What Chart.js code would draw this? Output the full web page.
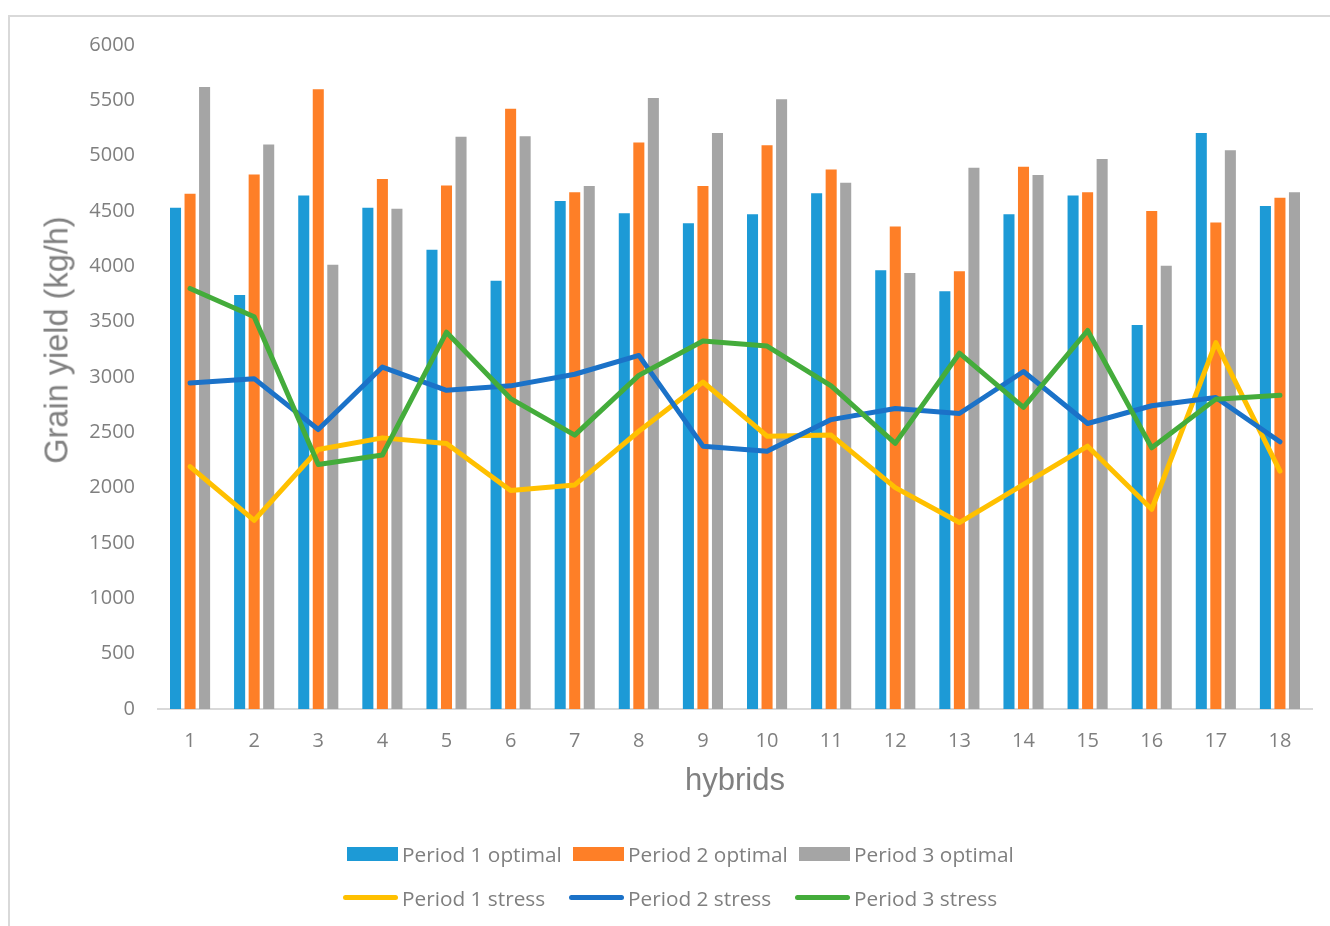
<!DOCTYPE html>
<html>
<head>
<meta charset="utf-8">
<script src="https://cdn.jsdelivr.net/npm/chart.js@4.4.1/dist/chart.umd.min.js"></script>
<style>
  html, body { margin: 0; padding: 0; background: #fff; }
  #wrap { position: relative; width: 1330px; height: 926px; overflow: hidden; }
  #frame { position: absolute; left: 8px; top: 15px; width: 1400px; height: 1000px;
           border-left: 2px solid #d9d9d9; border-top: 2px solid #d9d9d9; box-sizing: border-box; }
  #chart { position: absolute; left: 0; top: 0; }
  #ytitle { position: absolute; left: 57px; top: 340px; transform: translate(-50%, -50%) rotate(-90deg);
            font-family: "Liberation Sans", Arial, sans-serif; font-size: 32.5px; color: #808080; white-space: nowrap; }
  .legend-row { position: absolute; left: 343px; height: 30px; display: flex; }
  .item { width: 226px; display: flex; align-items: center; height: 30px; }
  .sw { width: 55px; height: 30px; position: relative; flex: none; }
  .sw.box i { position: absolute; right: 0; top: 8px; width: 51px; height: 14px; }
  .sw.line i { position: absolute; left: 0; right: 0; top: 12px; height: 5px; border-radius: 3px; }
  .lbl { margin-left: 4px; font-family: "Open Sans", sans-serif; font-size: 20.8px; color: #7f7f7f; white-space: nowrap; }
</style>
</head>
<body>
<div id="wrap">
  <div id="frame"></div>
  <canvas id="chart" width="1330" height="926"></canvas>
  <div id="ytitle">Grain yield (kg/h)</div>
  <div class="legend-row" id="legendBars" style="top:839px"></div>
  <div class="legend-row" id="legendLines" style="top:883px"></div>
</div>
<script>
// Hybrids on the category axis
const hybrids = ['1','2','3','4','5','6','7','8','9','10','11','12','13','14','15','16','17','18'];

// Grain yield under optimal conditions (kg/h)
const period1Optimal = [4530, 3740, 4640, 4530, 4150, 3870, 4590, 4480, 4390, 4470, 4660, 3965, 3775, 4470, 4640, 3470, 5205, 4545];
const period2Optimal = [4655, 4830, 5600, 4790, 4730, 5425, 4670, 5120, 4725, 5095, 4875, 4360, 3955, 4900, 4670, 4500, 4395, 4620];
const period3Optimal = [5620, 5100, 4015, 4520, 5170, 5175, 4725, 5520, 5205, 5510, 4755, 3940, 4890, 4825, 4970, 4005, 5050, 4670];

// Grain yield under stress (kg/h)
const period1Stress = [2190, 1705, 2345, 2450, 2400, 1975, 2025, 2510, 2955, 2465, 2475, 2000, 1685, 2030, 2375, 1805, 3310, 2150];
const period2Stress = [2945, 2985, 2525, 3090, 2880, 2920, 3025, 3195, 2375, 2330, 2615, 2715, 2670, 3050, 2580, 2740, 2815, 2415];
const period3Stress = [3800, 3545, 2210, 2295, 3405, 2805, 2475, 3015, 3325, 3280, 2920, 2400, 3215, 2725, 3420, 2360, 2800, 2835];

// Value axis ticks
const yMin = 0, yMax = 6000, yStep = 500;

const barSeries = [
  { label: 'Period 1 optimal', data: period1Optimal, color: '#1d9ad6' },
  { label: 'Period 2 optimal', data: period2Optimal, color: '#fe7f27' },
  { label: 'Period 3 optimal', data: period3Optimal, color: '#a5a5a5' }
];
const lineSeries = [
  { label: 'Period 1 stress', data: period1Stress, color: '#ffc000', order: 3 },
  { label: 'Period 2 stress', data: period2Stress, color: '#1b72c8', order: 2 },
  { label: 'Period 3 stress', data: period3Stress, color: '#44ac3b', order: 1 }
];

const datasets = [];
barSeries.forEach(s => datasets.push({
  type: 'bar', label: s.label, data: s.data, backgroundColor: s.color,
  borderWidth: 0, categoryPercentage: 0.68, barPercentage: 0.76, order: 10
}));
lineSeries.forEach(s => datasets.push({
  type: 'line', label: s.label, data: s.data, borderColor: s.color, backgroundColor: s.color,
  borderWidth: 5, pointRadius: 0, tension: 0, borderJoinStyle: 'round', borderCapStyle: 'round',
  fill: false, order: s.order
}));

const tickColor = '#7f7f7f';

new Chart(document.getElementById('chart'), {
  data: { labels: hybrids, datasets },
  options: {
    responsive: false,
    animation: false,
    devicePixelRatio: 1,
    layout: { padding: { left: 0, top: 45, right: 18, bottom: 126 } },
    plugins: { legend: { display: false }, tooltip: { enabled: false } },
    scales: {
      x: {
        grid: { display: false, drawTicks: false },
        border: { display: true, color: '#d9d9d9', width: 2 },
        ticks: { color: tickColor, font: { family: 'Open Sans', size: 20 }, padding: 20, maxRotation: 0 },
        title: { display: true, text: 'hybrids', color: '#808080',
                 font: { family: 'Liberation Sans', size: 31 }, padding: { top: 0, bottom: 0 } },
        afterFit: s => { s.height = 91; }
      },
      y: {
        min: yMin, max: yMax,
        grid: { display: false, drawTicks: false },
        border: { display: false },
        ticks: { stepSize: yStep, color: tickColor, font: { family: 'Open Sans', size: 20 }, padding: 23,
                 callback: v => String(v) },
        afterFit: s => { s.width = 158; }
      }
    }
  }
});

// Two-row legend built from the series definitions
function addItem(row, s, kind) {
  const item = document.createElement('div');
  item.className = 'item';
  const sw = document.createElement('div');
  sw.className = 'sw ' + kind;
  const mark = document.createElement('i');
  mark.style.background = s.color;
  sw.appendChild(mark);
  const lbl = document.createElement('span');
  lbl.className = 'lbl';
  lbl.textContent = s.label;
  item.appendChild(sw);
  item.appendChild(lbl);
  row.appendChild(item);
}
barSeries.forEach(s => addItem(document.getElementById('legendBars'), s, 'box'));
lineSeries.forEach(s => addItem(document.getElementById('legendLines'), s, 'line'));
</script>
</body>
</html>
